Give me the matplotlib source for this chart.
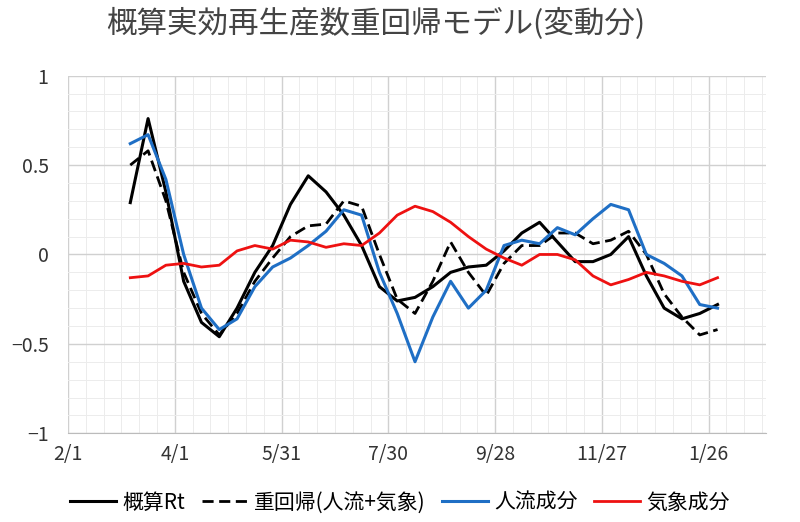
import matplotlib
matplotlib.use("Agg")
import matplotlib.pyplot as plt
from matplotlib.ticker import MultipleLocator

plt.rcParams["font.family"] = "Noto Sans CJK JP"

days = list(range(35, 366, 10))
rt = [0.29,0.76,0.35,-0.15,-0.38,-0.46,-0.3,-0.1,0.05,0.28,0.44,0.35,0.22,0.05,-0.18,-0.26,-0.24,-0.18,-0.1,-0.07,-0.06,0.02,0.12,0.18,0.07,-0.04,-0.04,0.0,0.1,-0.12,-0.3,-0.36,-0.33,-0.28]
reg = [0.5,0.58,0.3,-0.1,-0.33,-0.45,-0.33,-0.15,-0.02,0.1,0.16,0.17,0.3,0.27,0.0,-0.25,-0.33,-0.15,0.07,-0.1,-0.23,-0.05,0.05,0.05,0.12,0.12,0.06,0.08,0.13,0.0,-0.22,-0.35,-0.45,-0.42]
flow = [0.62,0.67,0.42,0.0,-0.3,-0.42,-0.36,-0.18,-0.07,-0.02,0.05,0.13,0.25,0.22,-0.1,-0.33,-0.6,-0.35,-0.15,-0.3,-0.2,0.05,0.08,0.06,0.15,0.11,0.2,0.28,0.25,0.0,-0.05,-0.12,-0.28,-0.3]
weather = [-0.13,-0.12,-0.06,-0.05,-0.07,-0.06,0.02,0.05,0.03,0.08,0.07,0.04,0.06,0.05,0.12,0.22,0.27,0.24,0.18,0.1,0.03,-0.02,-0.06,0.0,0.0,-0.03,-0.12,-0.17,-0.14,-0.1,-0.12,-0.15,-0.17,-0.13]
tick_days = [0, 60, 120, 180, 240, 300, 360]
tick_labels = ["2/1", "4/1", "5/31", "7/30", "9/28", "11/27", "1/26"]
y_ticks = [-1, -0.5, 0, 0.5, 1]
y_labels = ["−1", "−0.5", "0", "0.5", "1"]

fig = plt.figure(figsize=(8, 5.22), dpi=100)
ax = fig.add_axes([0.085, 0.17, 0.872, 0.685])
ax.plot(days, rt, color="black", lw=2.2, label="概算Rt")
ax.plot(days, reg, color="black", lw=2, ls=(0, (4, 2)), label="重回帰(人流+気象)")
ax.plot(days, flow, color="#1f6fc5", lw=2.2, label="人流成分")
ax.plot(days, weather, color="#ee1111", lw=2, label="気象成分")
ax.set_xlim(0, 392)
ax.set_ylim(-1, 1)
ax.set_xticks(tick_days, tick_labels)
ax.set_yticks(y_ticks, y_labels)
ax.xaxis.set_minor_locator(MultipleLocator(10))
ax.yaxis.set_minor_locator(MultipleLocator(0.1))
ax.grid(which="major", color="#d0d0d0", lw=1)
ax.grid(which="minor", color="#ececec", lw=0.7)
ax.tick_params(which="both", length=0, labelsize=14, colors="#333333")
ax.tick_params(axis="y", pad=14)
ax.tick_params(axis="x", pad=8)
for s in ax.spines.values():
    s.set_visible(False)
ax.spines["bottom"].set_visible(True)
ax.spines["bottom"].set_color("#bbbbbb")
fig.suptitle("概算実効再生産数重回帰モデル(変動分)", x=0.47, y=0.985, fontsize=22, color="#444444")
fig.legend(loc="lower center", ncol=4, frameon=False, fontsize=15, bbox_to_anchor=(0.5, -0.02),
           handlelength=2.2, columnspacing=0.8, handletextpad=0.3)
fig.savefig("out.png")
